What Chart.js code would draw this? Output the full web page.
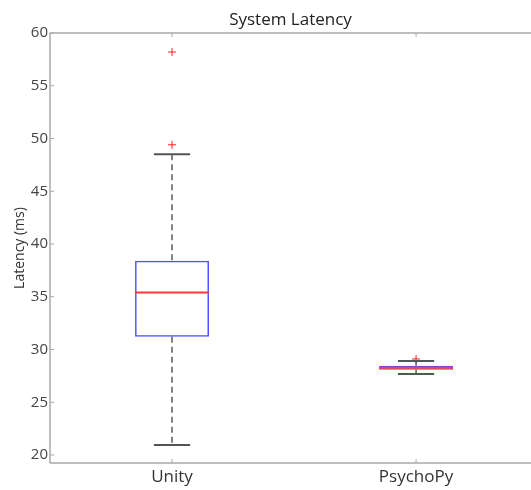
<!DOCTYPE html>
<html>
<head>
<meta charset="utf-8">
<script src="https://cdn.jsdelivr.net/npm/chart.js@4.4.1/dist/chart.umd.min.js"></script>
<style>
  html, body { margin: 0; padding: 0; background: #fff; }
  #wrap { width: 531px; height: 490px; }
</style>
</head>
<body>
<div id="wrap"><canvas id="latencyChart" width="531" height="490"></canvas></div>
<script>
// box plot summary (ms)
const categories = ["Unity", "PsychoPy"];
const positions = [1, 2];
const whiskerLow = [20.95, 27.68];
const quartile1 = [31.2, 28.08];
const medians = [35.4, 28.27];
const quartile3 = [38.4, 28.46];
const whiskerHigh = [48.5, 28.9];
const outliers = [[58.2, 49.4], [29.1]];
const yTicks = [20, 25, 30, 35, 40, 45, 50, 55, 60];

const AXIS_GREY = "#a9a9a9";

function strokeLine(ctx, x1, y1, x2, y2) {
  ctx.beginPath();
  ctx.moveTo(x1, y1);
  ctx.lineTo(x2, y2);
  ctx.stroke();
}

// frame + inward ticks like matlab
const axesFrame = {
  id: "axesFrame",
  beforeDatasetsDraw(chart) {
    const ctx = chart.ctx;
    const a = chart.chartArea;
    const x = chart.scales.x, y = chart.scales.y;
    ctx.save();
    ctx.strokeStyle = AXIS_GREY;
    ctx.lineWidth = 1.5;
    strokeLine(ctx, a.left, a.top, a.left, a.bottom);
    strokeLine(ctx, a.left, a.top, a.right, a.top);
    strokeLine(ctx, a.left, a.bottom, a.right, a.bottom);
    ctx.lineWidth = 1;
    yTicks.forEach(v => {
      const py = y.getPixelForValue(v);
      strokeLine(ctx, a.left, py, a.left + 4, py);
    });
    positions.forEach(p => {
      const px = x.getPixelForValue(p);
      strokeLine(ctx, px, a.top, px, a.top + 4);
      strokeLine(ctx, px, a.bottom, px, a.bottom - 4);
    });
    ctx.restore();
  }
};

// whiskers, caps and medians on top of the boxes
const boxExtras = {
  id: "boxExtras",
  afterDatasetsDraw(chart) {
    const ctx = chart.ctx;
    const x = chart.scales.x, y = chart.scales.y;
    const bars = chart.getDatasetMeta(0).data;
    ctx.save();
    positions.forEach((p, i) => {
      const cx = x.getPixelForValue(p);
      const half = bars[i].width / 2;
      const capHalf = half * 0.49;

      ctx.strokeStyle = "#333";
      ctx.lineWidth = 1.2;
      ctx.setLineDash([6, 4]);
      strokeLine(ctx, cx, y.getPixelForValue(whiskerHigh[i]), cx, y.getPixelForValue(quartile3[i]));
      strokeLine(ctx, cx, y.getPixelForValue(quartile1[i]), cx, y.getPixelForValue(whiskerLow[i]));
      ctx.setLineDash([]);

      ctx.strokeStyle = "#555";
      ctx.lineWidth = 2;
      [whiskerLow[i], whiskerHigh[i]].forEach(v => {
        const py = y.getPixelForValue(v);
        strokeLine(ctx, cx - capHalf, py, cx + capHalf, py);
      });

      ctx.strokeStyle = "#ff3b3b";
      ctx.lineWidth = 2;
      const my = y.getPixelForValue(medians[i]);
      strokeLine(ctx, cx - half, my, cx + half, my);
    });
    ctx.restore();
  }
};

const outlierPoints = [];
outliers.forEach((list, i) => list.forEach(v => outlierPoints.push({ x: positions[i], y: v })));

const ctx = document.getElementById("latencyChart").getContext("2d");
const latencyChart = new Chart(ctx, {
  type: "bar",
  data: {
    datasets: [
      {
        label: "IQR",
        data: positions.map((p, i) => ({ x: p, y: [quartile1[i], quartile3[i]] })),
        backgroundColor: "rgba(0,0,0,0)",
        borderColor: "#5050ff",
        borderWidth: 1.5,
        borderSkipped: false,
        barPercentage: 0.303,
        categoryPercentage: 1,
        grouped: false,
      },
      {
        type: "line",
        label: "Outliers",
        data: outlierPoints,
        showLine: false,
        pointStyle: "cross",
        pointRadius: 4,
        pointBorderWidth: 1,
        borderColor: "#ff2020",
        backgroundColor: "#ff2020",
      },
    ],
  },
  options: {
    responsive: false,
    animation: false,
    layout: { padding: 0, autoPadding: false },
    plugins: {
      legend: { display: false },
      tooltip: { enabled: false },
      title: {
        display: true,
        text: "System Latency",
        fullSize: false,
        color: "#222",
        font: { family: "Open Sans", size: 17, weight: "normal", lineHeight: 1.2 },
        padding: { top: 10, bottom: 2.6 },
      },
    },
    scales: {
      x: {
        type: "linear",
        min: 0.5,
        max: 2.471,
        offset: false,
        grid: { display: false, drawTicks: false },
        border: { display: false },
        afterBuildTicks: s => { s.ticks = positions.map(v => ({ value: v })); },
        afterFit: s => { s.height = 27; },
        ticks: {
          padding: 4,
          maxRotation: 0,
          color: "#333",
          font: { family: "Open Sans", size: 17 },
          callback: v => categories[positions.indexOf(v)],
        },
      },
      y: {
        min: 19.24,
        max: 60,
        grid: { display: false, drawTicks: false },
        border: { display: false },
        afterBuildTicks: s => { s.ticks = yTicks.map(v => ({ value: v })); },
        afterFit: s => { s.width = 50; },
        ticks: {
          padding: 2,
          color: "#444",
          font: { family: "Open Sans", size: 15 },
        },
        title: {
          display: true,
          text: "Latency (ms)",
          color: "#333",
          padding: { top: 12, bottom: 0 },
          font: { family: "Open Sans", size: 14 },
        },
      },
    },
  },
  plugins: [axesFrame, boxExtras],
});
</script>
</body>
</html>
